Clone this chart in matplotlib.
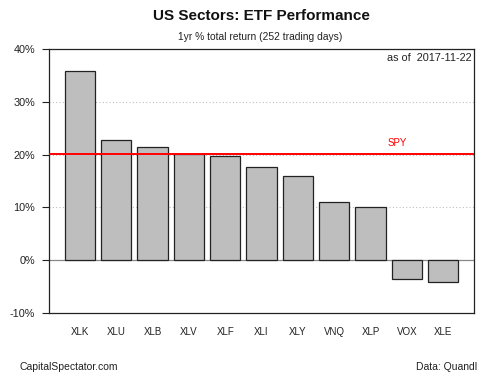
import matplotlib
matplotlib.use("Agg")
import matplotlib.pyplot as plt
from matplotlib.ticker import FuncFormatter

plt.rcParams['font.family'] = ['Liberation Sans', 'DejaVu Sans']

tickers = ["XLK", "XLU", "XLB", "XLV", "XLF", "XLI", "XLY", "VNQ", "XLP", "VOX", "XLE"]
returns = [35.8, 22.8, 21.4, 20.1, 19.7, 17.7, 16.0, 11.1, 10.1, -3.6, -4.1]
spy = 20.1
as_of = "2017-11-22"

fig = plt.figure(figsize=(5, 3.75), dpi=100)
ax = fig.add_axes([0.098, 0.1653, 0.85, 0.704])

# barplot positions like R: width 1, space 0.2
xs = [0.7 + 1.2 * i for i in range(len(tickers))]

for y in [10, 20, 30]:
    ax.axhline(y, color="#c0c0c0", lw=0.8, ls=(0, (1, 2)), zorder=0)
ax.axhline(0, color="#888888", lw=0.9, zorder=1)

ax.bar(xs, returns, width=1, color="#bebebe", edgecolor="#222222", linewidth=0.9, zorder=2)
ax.axhline(spy, color="#ff0000", lw=1.4, zorder=3)
ax.text(11.2, spy + 1.2, "SPY", color="#ff0000", fontsize=7, ha="center", va="bottom")

ax.set_xlim(-0.32, 13.72)
ax.set_ylim(-10, 40)
ax.set_yticks([-10, 0, 10, 20, 30, 40])
ax.yaxis.set_major_formatter(FuncFormatter(lambda v, p: "%d%%" % v))
ax.set_xticks(xs)
ax.set_xticklabels(tickers)
ax.tick_params(axis="x", length=0, pad=10, labelsize=7, colors="#222222")
ax.tick_params(axis="y", length=5, width=0.8, pad=5, labelsize=7.8, colors="#222222")
for s in ax.spines.values():
    s.set_linewidth(0.9)
    s.set_color("#222222")

ax.text(0.995, 0.985, "as of  " + as_of, transform=ax.transAxes, ha="right", va="top", fontsize=7.8, color="#222222")

fig.text(0.523, 0.957, "US Sectors: ETF Performance", ha="center", va="center", fontsize=11, fontweight="bold", color="#111111")
fig.text(0.52, 0.901, "1yr % total return (252 trading days)", ha="center", va="center", fontsize=7.4, color="#222222")
fig.text(0.04, 0.021, "CapitalSpectator.com", ha="left", va="center", fontsize=7.5, color="#222222")
fig.text(0.955, 0.021, "Data: Quandl", ha="right", va="center", fontsize=7.5, color="#222222")

fig.savefig("out.png", dpi=100)
